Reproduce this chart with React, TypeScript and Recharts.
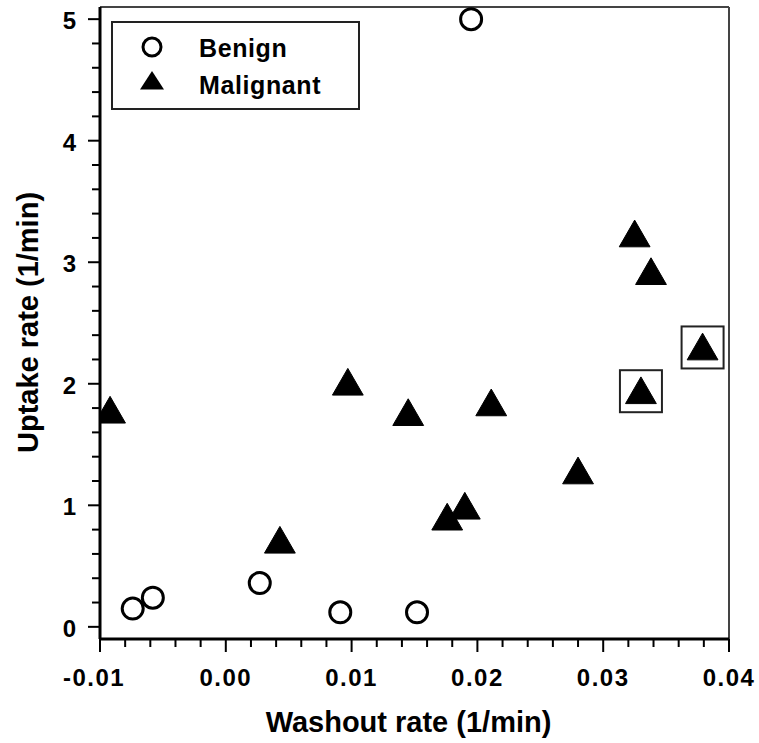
import { ScatterChart, Scatter, XAxis, YAxis, ReferenceLine, Legend } from "recharts";

const FONT = '"Liberation Sans", Arial, Helvetica, sans-serif';

// washout rate (1/min) vs uptake rate (1/min)
const BENIGN_X = [-0.0074, -0.0058, 0.0027, 0.0091, 0.0152, 0.0195];
const BENIGN_Y = [0.15, 0.24, 0.36, 0.12, 0.12, 5.0];

const MALIGNANT_X = [-0.0092, 0.0043, 0.0097, 0.0145, 0.0176, 0.019, 0.0211, 0.028, 0.033, 0.0325, 0.0338, 0.0379];
const MALIGNANT_Y = [1.75, 0.68, 1.98, 1.73, 0.87, 0.96, 1.81, 1.25, 1.91, 3.2, 2.89, 2.27];
// the two cases drawn with a square round them
const MALIGNANT_BOXED = [false, false, false, false, false, false, false, false, true, false, false, true];

const X_TICKS = [
  -0.01, -0.008, -0.006, -0.004, -0.002, 0, 0.002, 0.004, 0.006, 0.008, 0.01, 0.012, 0.014,
  0.016, 0.018, 0.02, 0.022, 0.024, 0.026, 0.028, 0.03, 0.032, 0.034, 0.036, 0.038, 0.04,
];
const Y_TICKS = [
  0, 0.2, 0.4, 0.6, 0.8, 1, 1.2, 1.4, 1.6, 1.8, 2, 2.2, 2.4, 2.6, 2.8, 3, 3.2, 3.4, 3.6, 3.8,
  4, 4.2, 4.4, 4.6, 4.8, 5,
];

const SERIES_NAMES = ["Benign", "Malignant"];

const benignData = BENIGN_X.map((x, i) => ({ x, y: BENIGN_Y[i] }));
const malignantData = MALIGNANT_X.map((x, i) => ({ x, y: MALIGNANT_Y[i], boxed: MALIGNANT_BOXED[i] }));

function OpenCircle({ cx, cy }: any) {
  return <circle cx={cx} cy={cy} r={10.5} fill="none" stroke="#000" strokeWidth={3} />;
}

function Triangle({ cx, cy, payload }: any) {
  const h = 26.7;
  const w = 30.8;
  return (
    <g>
      <polygon
        points={`${cx},${cy - (2 * h) / 3} ${cx - w / 2},${cy + h / 3} ${cx + w / 2},${cy + h / 3}`}
        fill="#000"
        stroke="#000"
        strokeWidth={1}
        strokeLinejoin="round"
      />
      {payload?.boxed && (
        <rect x={cx - 21} y={cy - 24.5} width={42} height={42} fill="none" stroke="#222" strokeWidth={2} />
      )}
    </g>
  );
}

function XTick({ x, y, payload }: any) {
  const v = payload.value as number;
  const major = Math.abs(v * 100 - Math.round(v * 100)) < 1e-6;
  return (
    <g>
      <line x1={x} x2={x} y1={y} y2={y + (major ? 13 : 8)} stroke="#000" strokeWidth={2} />
      {major && (
        <text
          x={x}
          y={y + 47}
          dx={v < 0 ? -6 : 0}
          textAnchor="middle"
          fontFamily={FONT}
          fontWeight="bold"
          fontSize={24}
          letterSpacing={1.5}
          fill="#000"
        >
          {v.toFixed(2)}
        </text>
      )}
    </g>
  );
}

function YTick({ x, y, payload }: any) {
  const v = payload.value as number;
  const major = Math.abs(v - Math.round(v)) < 1e-6;
  return (
    <g>
      <line x1={x} x2={x - (major ? 12 : 8)} y1={y} y2={y} stroke="#000" strokeWidth={2} />
      {major && (
        <text
          x={x - 24}
          y={y + 1.5}
          textAnchor="end"
          dominantBaseline="central"
          fontFamily={FONT}
          fontWeight="bold"
          fontSize={24}
          fill="#000"
        >
          {v}
        </text>
      )}
    </g>
  );
}

function XTitle({ viewBox }: any) {
  const { x, y, width } = viewBox;
  return (
    <text x={x + width / 2 - 6} y={y + 93} textAnchor="middle" fontFamily={FONT} fontWeight="bold" fontSize={29} fill="#000">
      Washout rate (1/min)
    </text>
  );
}

function YTitle({ viewBox }: any) {
  const { x, y, height } = viewBox;
  const cy = y + height / 2 - 0.5;
  return (
    <text
      x={x + 38}
      y={cy}
      transform={`rotate(-90, ${x + 38}, ${cy})`}
      textAnchor="middle"
      fontFamily={FONT}
      fontWeight="bold"
      fontSize={29}
      fill="#000"
    >
      Uptake rate (1/min)
    </text>
  );
}

function LegendBox() {
  return (
    <svg width={249} height={89} style={{ display: "block" }}>
      <rect x={1} y={1} width={247} height={87} fill="#fff" stroke="#222" strokeWidth={2} />
      <circle cx={41} cy={26} r={9} fill="none" stroke="#000" strokeWidth={3} />
      <polygon points="41,50 29,68.5 53,68.5" fill="#000" />
      <text x={88} y={27} dominantBaseline="central" fontFamily={FONT} fontWeight="bold" fontSize={25} letterSpacing={0.6} fill="#000">
        {SERIES_NAMES[0]}
      </text>
      <text x={88} y={64} dominantBaseline="central" fontFamily={FONT} fontWeight="bold" fontSize={25} letterSpacing={0.6} fill="#000">
        {SERIES_NAMES[1]}
      </text>
    </svg>
  );
}

export default function App() {
  return (
    <div style={{ position: "absolute", left: 0, top: 0, background: "#fff" }}>
      <ScatterChart width={759} height={743} margin={{ top: 7, right: 30, bottom: 0, left: 0 }}>
        <XAxis
          type="number"
          dataKey="x"
          domain={[-0.01, 0.04]}
          ticks={X_TICKS}
          interval={0}
          allowDataOverflow
          height={104}
          tickSize={0}
          tickMargin={0}
          tickLine={false}
          axisLine={{ stroke: "#000", strokeWidth: 3 }}
          tick={<XTick />}
          label={<XTitle />}
        />
        <YAxis
          type="number"
          dataKey="y"
          domain={[-0.1, 5.1]}
          ticks={Y_TICKS}
          interval={0}
          allowDataOverflow
          width={100}
          tickSize={0}
          tickMargin={0}
          tickLine={false}
          axisLine={{ stroke: "#000", strokeWidth: 3 }}
          tick={<YTick />}
          label={<YTitle />}
        />
        <ReferenceLine y={5.1} stroke="#444" strokeWidth={2} ifOverflow="visible" />
        <ReferenceLine x={0.04} stroke="#444" strokeWidth={2} ifOverflow="visible" />
        <Legend
          layout="vertical"
          align="center"
          verticalAlign="middle"
          content={<LegendBox />}
          wrapperStyle={{ left: 111, top: 21, width: 249, height: 89 }}
        />
        <Scatter
          name={SERIES_NAMES[0]}
          data={benignData}
          shape={<OpenCircle />}
          isAnimationActive={false}
        />
        <Scatter
          name={SERIES_NAMES[1]}
          data={malignantData}
          shape={<Triangle />}
          isAnimationActive={false}
        />
      </ScatterChart>
    </div>
  );
}
